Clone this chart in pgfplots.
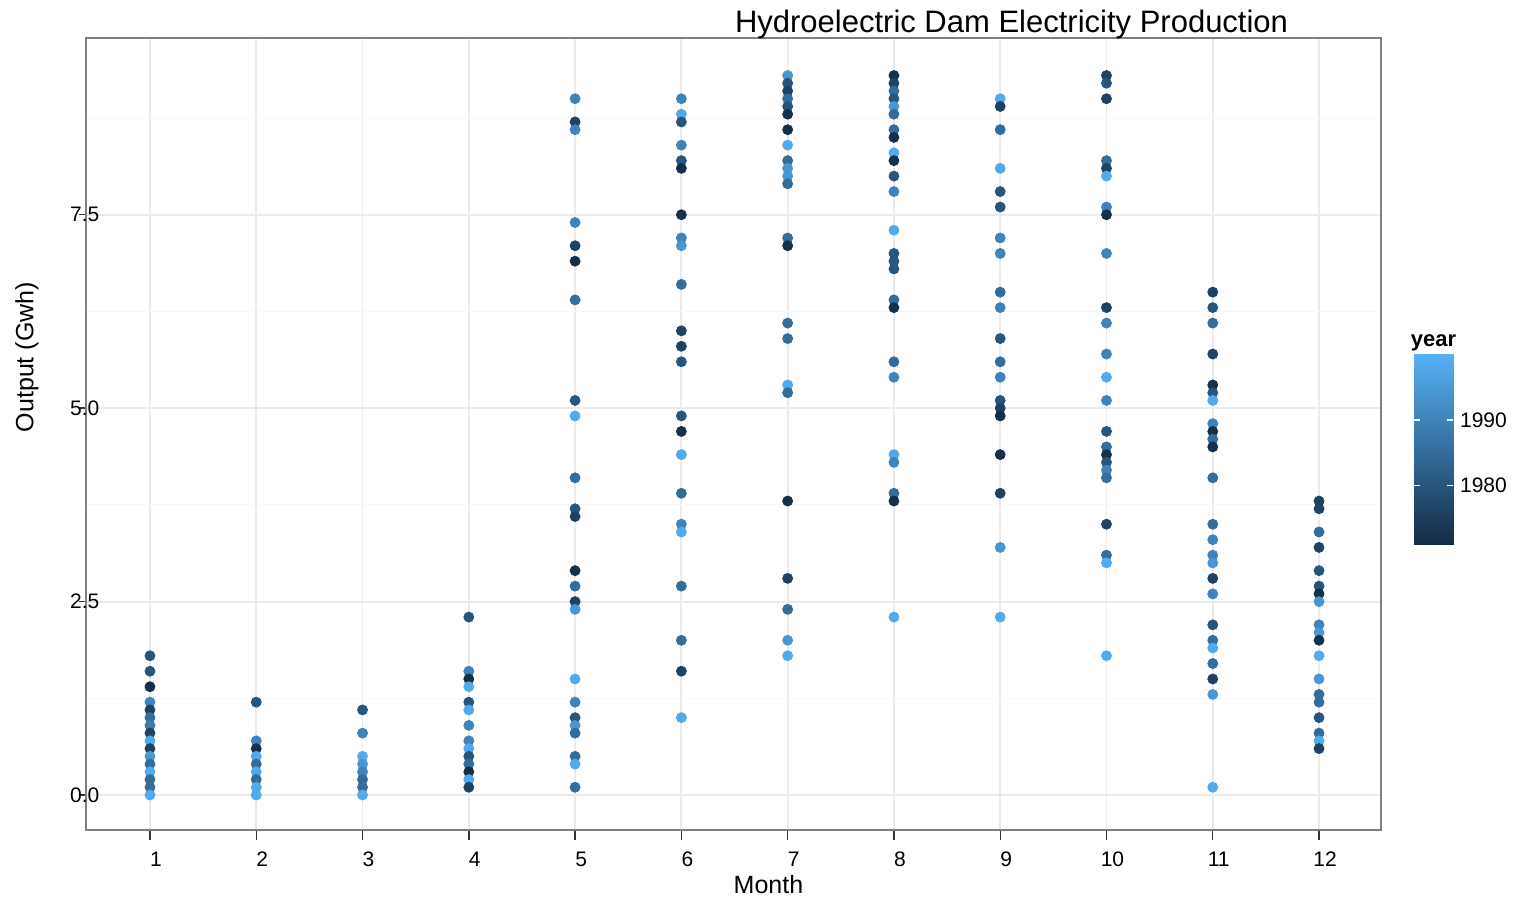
\documentclass[border=0pt]{standalone}
\usepackage{pgfplots}
\pgfplotsset{compat=1.18}
\usepackage{pgfplotstable}
\usetikzlibrary{calc}
\usepackage{fontspec}
\setmainfont{Liberation Sans}
\definecolor{gridmaj}{RGB}{235,235,235}
\definecolor{gridmin}{RGB}{248,248,248}
\definecolor{border}{RGB}{127,127,127}
\definecolor{tickc}{RGB}{51,51,51}
\pgfplotsset{every axis title shift=0pt,
  colormap={gg}{rgb255=(19,43,67) rgb255=(86,177,247)}}

% month value year
\pgfplotstableread{
m v y
1 1.8 1980
1 1.6 1980
1 1.4 1972
1 1.2 1990
1 1.1 1976
1 1.0 1985
1 0.9 1988
1 0.8 1976
1 0.7 1998
1 0.6 1976
1 0.5 1994
1 0.4 1985
1 0.3 1998
1 0.2 1985
1 0.1 1985
1 0.0 1998
2 1.2 1980
2 0.7 1990
2 0.6 1972
2 0.5 1998
2 0.4 1985
2 0.3 1998
2 0.2 1985
2 0.1 1998
2 0.0 1998
3 1.1 1980
3 0.8 1990
3 0.5 1998
3 0.4 1994
3 0.3 1990
3 0.2 1985
3 0.1 1985
3 0.0 1998
4 2.3 1980
4 1.6 1990
4 1.5 1972
4 1.4 1998
4 1.2 1980
4 1.1 1998
4 0.9 1990
4 0.7 1990
4 0.6 1998
4 0.5 1980
4 0.4 1985
4 0.3 1972
4 0.2 1998
4 0.1 1976
5 9.0 1990
5 8.7 1976
5 8.6 1990
5 7.4 1990
5 7.1 1976
5 6.9 1972
5 6.4 1985
5 5.1 1980
5 4.9 1998
5 4.1 1985
5 3.7 1980
5 3.6 1976
5 2.9 1972
5 2.7 1985
5 2.5 1976
5 2.4 1994
5 1.5 1998
5 1.2 1990
5 1.0 1980
5 0.9 1994
5 0.8 1985
5 0.5 1985
5 0.4 1998
5 0.1 1985
6 9.0 1990
6 8.8 1998
6 8.7 1980
6 8.4 1990
6 8.2 1980
6 8.1 1972
6 7.5 1972
6 7.2 1990
6 7.1 1994
6 6.6 1985
6 6.0 1976
6 5.8 1976
6 5.6 1980
6 4.9 1980
6 4.7 1972
6 4.4 1998
6 3.9 1985
6 3.5 1990
6 3.4 1998
6 2.7 1985
6 2.0 1985
6 1.6 1976
6 1.0 1998
7 9.3 1994
7 9.2 1980
7 9.1 1976
7 9.0 1985
7 8.9 1980
7 8.8 1972
7 8.6 1972
7 8.4 1998
7 8.2 1985
7 8.1 1994
7 8.0 1994
7 7.9 1985
7 7.2 1985
7 7.1 1972
7 6.1 1985
7 5.9 1985
7 5.3 1998
7 5.2 1985
7 3.8 1972
7 2.8 1976
7 2.4 1985
7 2.0 1994
7 1.8 1998
8 9.3 1972
8 9.2 1976
8 9.1 1985
8 9.0 1980
8 8.9 1994
8 8.8 1985
8 8.6 1985
8 8.5 1972
8 8.3 1998
8 8.2 1972
8 8.0 1980
8 7.8 1990
8 7.3 1998
8 7.0 1980
8 6.9 1980
8 6.8 1980
8 6.4 1985
8 6.3 1972
8 5.6 1985
8 5.4 1990
8 4.4 1998
8 4.3 1990
8 3.9 1985
8 3.8 1972
8 2.3 1998
9 9.0 1998
9 8.9 1976
9 8.6 1985
9 8.1 1998
9 7.8 1980
9 7.6 1980
9 7.2 1990
9 7.0 1990
9 6.5 1985
9 6.3 1990
9 5.9 1980
9 5.6 1985
9 5.4 1990
9 5.1 1980
9 5.0 1976
9 4.9 1972
9 4.4 1972
9 3.9 1976
9 3.2 1994
9 2.3 1998
10 9.3 1976
10 9.2 1980
10 9.0 1976
10 8.2 1985
10 8.1 1976
10 8.0 1998
10 7.6 1990
10 7.5 1972
10 7.0 1990
10 6.3 1976
10 6.1 1990
10 5.7 1990
10 5.4 1998
10 5.1 1990
10 4.7 1980
10 4.5 1985
10 4.4 1972
10 4.3 1980
10 4.2 1990
10 4.1 1985
10 3.5 1976
10 3.1 1985
10 3.0 1998
10 1.8 1998
11 6.5 1976
11 6.3 1980
11 6.1 1985
11 5.7 1976
11 5.3 1972
11 5.2 1980
11 5.1 1998
11 4.8 1990
11 4.7 1972
11 4.6 1985
11 4.5 1972
11 4.1 1985
11 3.5 1985
11 3.3 1990
11 3.1 1990
11 3.0 1994
11 2.8 1976
11 2.6 1990
11 2.2 1980
11 2.0 1985
11 1.9 1998
11 1.7 1985
11 1.5 1976
11 1.3 1994
11 0.1 1998
12 3.8 1976
12 3.7 1976
12 3.4 1985
12 3.2 1976
12 2.9 1980
12 2.7 1980
12 2.6 1972
12 2.5 1994
12 2.2 1990
12 2.1 1994
12 2.0 1972
12 1.8 1998
12 1.5 1994
12 1.3 1985
12 1.2 1985
12 1.0 1980
12 0.8 1985
12 0.7 1998
12 0.6 1976
}\damdata

\begin{document}
\begin{tikzpicture}
\begin{axis}[
  name=main,
  scale only axis,
  width=647.5pt, height=396pt,
  xmin=0.398, xmax=12.583,
  ymin=-0.452, ymax=9.785,
  /pgf/number format/assume math mode=true,
  xtick={1,2,3,4,5,6,7,8,9,10,11,12},
  ytick={0,2.5,5,7.5},
  yticklabels={0.0,2.5,5.0,7.5},
  minor ytick={1.25,3.75,6.25,8.75},
  minor tick length=0pt,
  xmajorgrids, ymajorgrids, yminorgrids,
  major grid style={gridmaj, line width=0.9pt},
  minor grid style={gridmin, line width=0.5pt},
  axis line style={border, line width=0.9pt},
  tick align=outside,
  xtick pos=bottom, ytick pos=left,
  xtick style={tickc, line width=0.7pt, /pgfplots/major tick length=5pt},
  ytick style={tickc, line width=0.7pt, /pgfplots/major tick length=3.5pt},
  ticklabel style={font=\fontsize{10.5}{12}\selectfont, text=black},
  xticklabel style={xshift=3pt, yshift=-3pt},
  yticklabel style={anchor=east, xshift=14.5pt},
  title={Hydroelectric Dam Electricity Production},
  title style={font=\fontsize{15.5}{18}\selectfont, at={(axis description cs:0.7147,1.0063)}, anchor=base, yshift=0pt},
  xlabel={Month},
  xlabel style={font=\fontsize{12.5}{15}\selectfont, at={(axis description cs:0.527,-0.0808)}, anchor=base},
  ylabel={Output (Gwh)},
  ylabel style={font=\fontsize{12.5}{15}\selectfont, at={(axis description cs:-0.0456,0.597)}, anchor=center},
  point meta min=1971, point meta max=2000,
  clip=false,
]
\addplot[scatter, only marks, mark=*, mark size=2.5pt,
  scatter/use mapped color={draw=mapped color, fill=mapped color},
  point meta=explicit]
  table[x=m, y=v, meta=y] {\damdata};
\coordinate (bbsw) at (rel axis cs:-0.06641,-0.08712);
\coordinate (bbne) at (rel axis cs:1.10270,1.04798);
\end{axis}
\begin{axis}[
  at={($(main.north east)+(16.5pt,-158pt)$)}, anchor=north west,
  scale only axis,
  width=19.5pt, height=95.5pt,
  xmin=0, xmax=1, ymin=1971, ymax=2000,
  xtick=\empty,
  ytick={1980,1990}, yticklabels={1980,1990},
  ytick pos=both, yticklabel pos=right,
  tick align=inside,
  major tick length=3pt,
  ytick style={white, line width=0.7pt},
  axis line style={draw=none},
  axis on top,
  yticklabel style={font=\fontsize{10.5}{12}\selectfont, text=black},
  point meta min=1971, point meta max=2000,
  title={\bfseries year},
  title style={font=\fontsize{11}{13}\selectfont, at={(0.5,1)}, anchor=base, yshift=3.5pt},
]
\addplot[surf, shader=interp, point meta=y, mesh/cols=2] coordinates {
(0,1971) (1,1971)

(0,2000) (1,2000)
};
\end{axis}
\pgfresetboundingbox
\path (bbsw) rectangle (bbne);
\end{tikzpicture}
\end{document}
